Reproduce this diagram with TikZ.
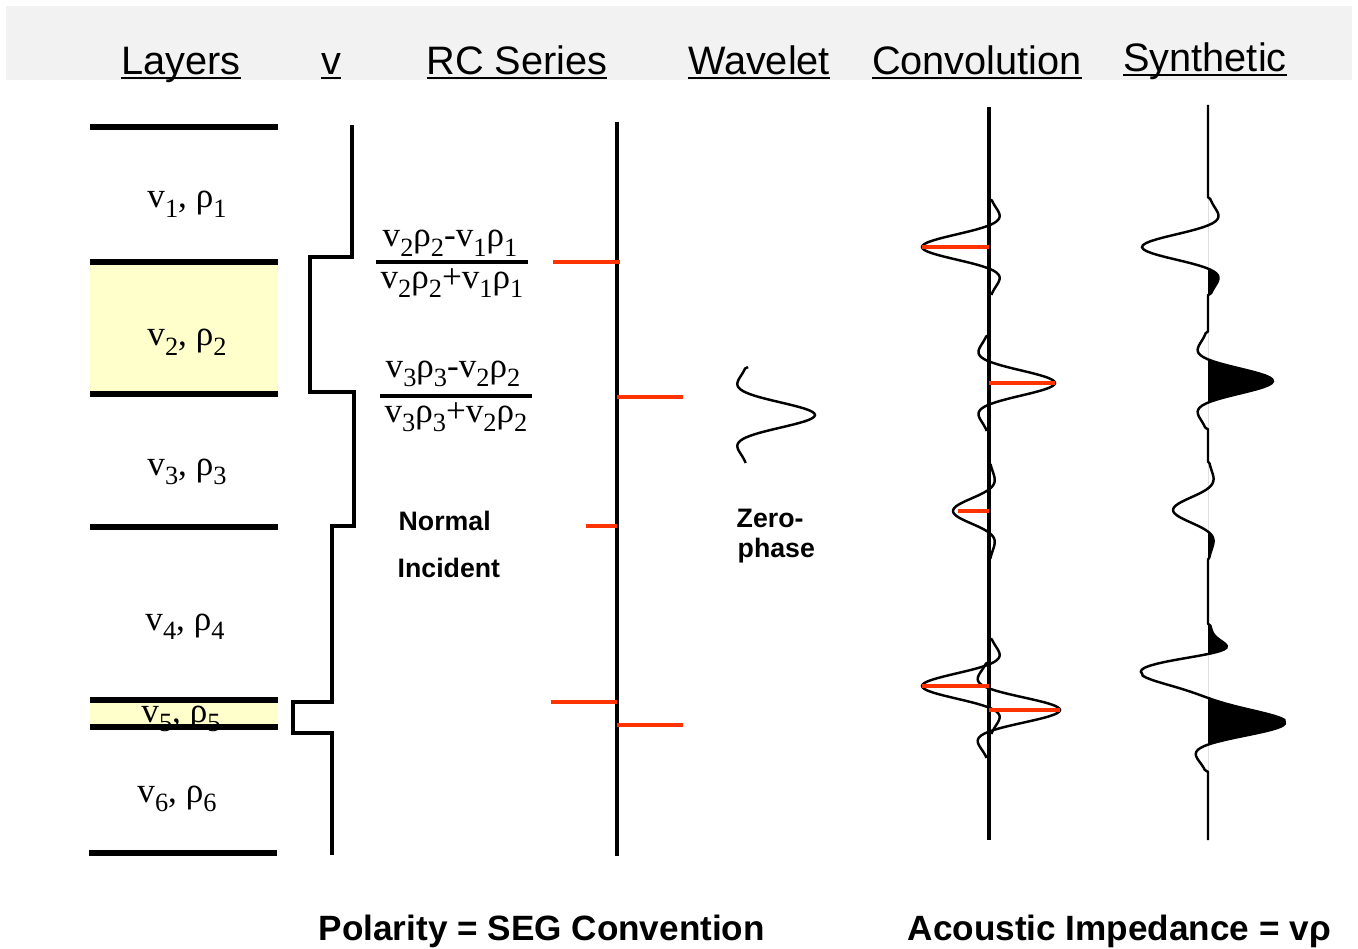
\documentclass[tikz,border=0pt]{standalone}
\usepackage{fontspec}
\setmainfont{Liberation Serif}
\setsansfont{Liberation Sans}
\usetikzlibrary{positioning,calc}

\definecolor{rcred}{RGB}{255,51,0}
\definecolor{layeryellow}{RGB}{255,255,204}

\newcommand\sub[1]{\raisebox{-2.6pt}{\fontsize{7.5}{8}\selectfont #1}}
\newcommand\imp[1]{v\sub{#1}ρ\sub{#1}}
\newcommand\hdr[1]{\setbox0\hbox{#1}\rlap{\rule[-0.11em]{\wd0}{0.055em}}\box0}

\tikzset{
	layer/.style={line width=1.7pt},
	vlog/.style={line width=1.3pt, line join=miter},
	axis/.style={line width=0.9pt},
	rc/.style={rcred, line width=0.9pt},
	wig/.style={line width=0.7pt},
	hdrtxt/.style={font=\sffamily\fontsize{11.3}{13}\selectfont, anchor=base},
	lbl/.style={font=\fontsize{10}{12}\selectfont, anchor=base, inner sep=1pt},
	note/.style={font=\sffamily\bfseries\fontsize{7.6}{9}\selectfont, anchor=base west, inner sep=0pt},
	foot/.style={font=\sffamily\bfseries\fontsize{10}{12}\selectfont, anchor=base west, inner sep=0pt},
	declare function={
		wav(\u)=(abs(\u)<1)*cos(deg(3.49*min(abs(\u),1)))*exp(-3.3*min(\u*\u,1));
		syn(\t)=-66*wav((\t-247)/48)+65*wav((\t-381)/48)-35*wav((\t-510)/48)
			+14*wav((\t-650)/25)-66*wav((\t-672)/48)+77*wav((\t-723)/48);
	}
}

\begin{document}
\begin{tikzpicture}[x=0.1mm, y=-0.1mm]
	\useasboundingbox (0,0) rectangle (1358,949);
	% title band
	\fill[black!5] (6,6) rectangle (1352,80);
	
	% column titles
	\node[hdrtxt] (tLay) at (181,75) {\hdr{Layers}};
	\node[hdrtxt] (tVel) at (331,75) {\hdr{v}};
	\node[hdrtxt] (tRC) at (517,75) {\hdr{RC Series}};
	\node[hdrtxt] (tWav) at (759,75) {\hdr{Wavelet}};
	\node[hdrtxt] (tConv) at (977,75) {\hdr{Convolution}};
	\node[hdrtxt] (tSyn) at (1205,72) {\hdr{Synthetic}};
	
	% layers
	\fill[layeryellow] (90,262) rectangle (278,394);
	\fill[layeryellow] (90,700) rectangle (278,727);
	
	\node[lbl] (L1) at (187,208) {v\sub{1}, ρ\sub{1}};
	\node[lbl] (L2) at (187,346) {v\sub{2}, ρ\sub{2}};
	\node[lbl] (L3) at (187,475) {v\sub{3}, ρ\sub{3}};
	\node[lbl] (L4) at (185,630) {v\sub{4}, ρ\sub{4}};
	\node[lbl] (L5) at (181,722) {v\sub{5}, ρ\sub{5}};
	\node[lbl] (L6) at (177,802) {v\sub{6}, ρ\sub{6}};
	
	\draw[layer] (90,127) -- (278,127);
	\draw[layer] (90,262) -- (278,262);
	\draw[layer] (90,394) -- (278,394);
	\draw[layer] (90,527) -- (278,527);
	\draw[layer] (90,700) -- (278,700);
	\draw[layer] (90,727) -- (278,727);
	\draw[layer] (89,853) -- (277,853);
	
	% velocity log
	\draw[vlog] (352,125) -- (352,257) -- (310,257) -- (310,392) -- (354,392)
		-- (354,526) -- (332,526) -- (332,702) -- (293,702) -- (293,733)
		-- (332,733) -- (332,855);
	
	% reflection coefficients
	\node[lbl] (f1n) at (450,247) {\imp{2}-\imp{1}};
	\node[lbl] (f1d) at (452,288) {\imp{2}+\imp{1}};
	\draw[line width=0.9pt] (f1d.west |- 0,262) -- (f1d.east |- 0,262);
	\node[lbl] (f2n) at (453,377) {\imp{3}-\imp{2}};
	\node[lbl] (f2d) at (456,422) {\imp{3}+\imp{2}};
	\draw[line width=0.9pt] (f2d.west |- 0,396) -- (f2d.east |- 0,396);
	
	\node[note] (ni1) at (398,530) {Normal};
	\node[note] (ni2) at (397,577) {Incident};
	
	\coordinate (rcTop) at (617,122);
	\coordinate (rcBot) at (617,856);
	\draw[axis] (rcTop) -- (rcBot);
	\draw[rc] (553,262) -- (620,262);
	\draw[rc] (617,397) -- (683,397);
	\draw[rc] (586,526) -- (617,526);
	\draw[rc] (551,702) -- (617,702);
	\draw[rc] (617,725) -- (683,725);
	
	% wavelet
	\draw[wig] plot[domain=-1:1, samples=61, variable=\s] ({748+67*wav(\s)}, {415+48*\s});
	\node[note] (zp1) at (736,527) {Zero-};
	\node[note] (zp2) at (737,557) {phase};
	
	% convolution
	\coordinate (cvTop) at (989,107);
	\coordinate (cvBot) at (989,840);
	\draw[axis] (cvTop) -- (cvBot);
	\draw[wig] plot[domain=-1:1, samples=61, variable=\s] ({989-67*wav(\s)}, {247+48*\s});
	\draw[wig] plot[domain=-1:1, samples=61, variable=\s] ({989+66*wav(\s)}, {383+48*\s});
	\draw[wig] plot[domain=-1:1, samples=61, variable=\s] ({989-36*wav(\s)}, {511+48*\s});
	\draw[wig] plot[domain=-1:1, samples=61, variable=\s] ({989-67*wav(\s)}, {686+48*\s});
	\draw[wig] plot[domain=-1:1, samples=61, variable=\s] ({989+71*wav(\s)}, {710+48*\s});
	\draw[rc] (922,247) -- (989,247);
	\draw[rc] (989,383) -- (1055,383);
	\draw[rc] (958,511) -- (989,511);
	\draw[rc] (922,686) -- (989,686);
	\draw[rc] (989,710) -- (1060,710);
	
	% synthetic trace, positive lobes filled
	\coordinate (synTop) at (1208,105);
	\coordinate (synBot) at (1208,840);
	\begin{scope}[even odd rule]
		\clip (synTop) rectangle (1358,840)
			(1208,195) rectangle (1358,228) (1208,455) rectangle (1358,495);
		\fill plot[domain=105:840, samples=368, variable=\s] ({1208+syn(\s)}, {\s}) -- cycle;
	\end{scope}
	\draw[wig] plot[domain=105:840, samples=368, variable=\s] ({1208+syn(\s)}, {\s});
	
	\node[foot] (pol) at (318,940) {Polarity = SEG Convention};
	\node[foot] (aimp) at (907,940) {Acoustic Impedance = vρ};
\end{tikzpicture}
\end{document}
